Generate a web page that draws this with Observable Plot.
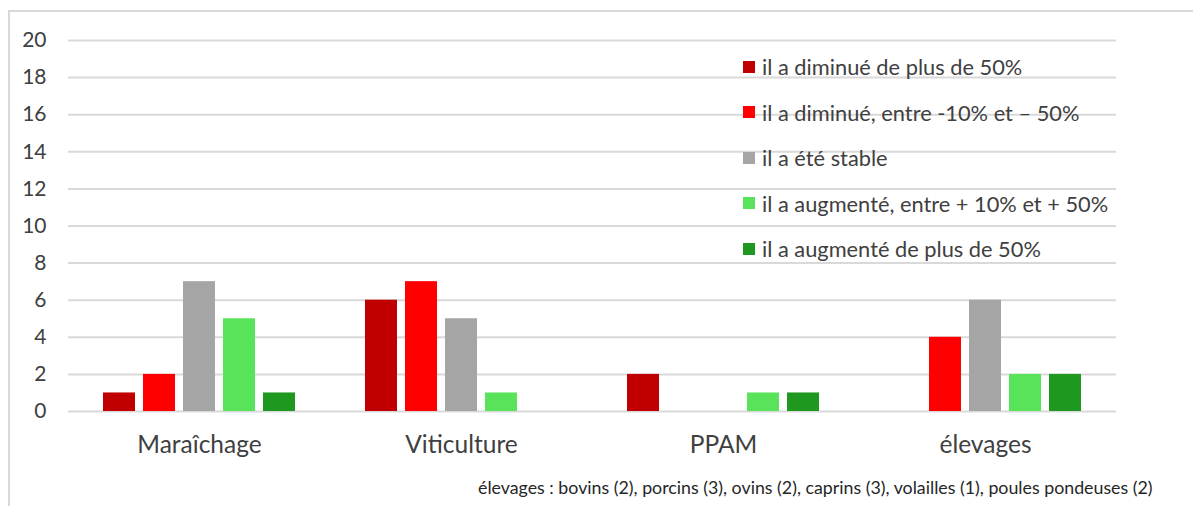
<!DOCTYPE html>
<html>
<head>
<meta charset="utf-8">
<script src="https://cdn.jsdelivr.net/npm/d3@7"></script>
<script src="https://cdn.jsdelivr.net/npm/@observablehq/plot@0.6"></script>
<style>
  html, body { margin: 0; padding: 0; background: #fff; }
  #wrap { position: relative; width: 1193px; height: 506px; overflow: hidden; font-family: Lato, "Open Sans", sans-serif; color: #404040; }
  #frame { position: absolute; left: 8px; top: 10px; right: -5px; bottom: -5px; border-left: 2px solid #d9d9d9; border-top: 2px solid #d9d9d9; }
  #chart { position: absolute; left: 0; top: 0; }
  #legend { position: absolute; left: 743px; top: 44px; }
  .row { height: 45.5px; display: flex; align-items: center; font-size: 21.8px; white-space: nowrap; }
  .sw { width: 12px; height: 12px; margin-right: 7px; flex: none; }
  #note { position: absolute; left: 478px; top: 477px; font-size: 17.8px; line-height: 21px; white-space: nowrap; color: #262626; }
</style>
</head>
<body>
<div id="wrap">
  <div id="frame"></div>
  <div id="chart"></div>
  <div id="legend"></div>
  <div id="note"></div>
</div>
<script>
const categories = ["Maraîchage", "Viticulture", "PPAM", "élevages"];
const seriesNames = [
  "il a diminué de plus de 50%",
  "il a diminué, entre -10% et – 50%",
  "il a été stable",
  "il a augmenté, entre + 10% et + 50%",
  "il a augmenté de plus de 50%"
];
const seriesColors = ["#C00000", "#FF0000", "#A5A5A5", "#59E35A", "#1E981F"];
const maraichage = [1, 2, 7, 5, 1];
const viticulture = [6, 7, 5, 1, 0];
const ppam = [2, 0, 0, 1, 1];
const elevages = [0, 4, 6, 2, 2];
const yTicks = [0, 2, 4, 6, 8, 10, 12, 14, 16, 18, 20];
const footnote = "élevages : bovins (2), porcins (3), ovins (2), caprins (3), volailles (1), poules pondeuses (2)";

const valuesByCategory = [maraichage, viticulture, ppam, elevages];
const data = categories.flatMap((c, i) =>
  seriesNames.map((s, j) => ({category: c, series: s, value: valuesByCategory[i][j]}))
);

const chart = Plot.plot({
  width: 1193,
  height: 506,
  marginLeft: 67,
  marginRight: 77,
  marginTop: 40,
  marginBottom: 95,
  style: {fontFamily: "Lato, 'Open Sans', sans-serif", background: "transparent", color: "#404040"},
  fx: {domain: categories, padding: 0, label: null},
  x: {domain: seriesNames, paddingInner: 0.21, paddingOuter: 0.84, axis: null},
  y: {domain: [0, 20], label: null},
  color: {domain: seriesNames, range: seriesColors},
  marks: [
    Plot.gridY(yTicks, {stroke: "#d9d9d9", strokeWidth: 2, strokeOpacity: 1}),
    Plot.barY(data, {fx: "category", x: "series", y: "value", fill: "series"}),
    Plot.axisY(yTicks, {tickSize: 0, tickPadding: 22, fontSize: 21, label: null}),
    Plot.axisFx({anchor: "bottom", tickSize: 0, tickPadding: 24, fontSize: 24.5, label: null})
  ]
});
document.getElementById("chart").appendChild(chart);

const legend = document.getElementById("legend");
seriesNames.forEach((s, i) => {
  const row = document.createElement("div");
  row.className = "row";
  const sw = document.createElement("span");
  sw.className = "sw";
  sw.style.background = seriesColors[i];
  const t = document.createElement("span");
  t.textContent = s;
  row.appendChild(sw);
  row.appendChild(t);
  legend.appendChild(row);
});
document.getElementById("note").textContent = footnote;
</script>
</body>
</html>
